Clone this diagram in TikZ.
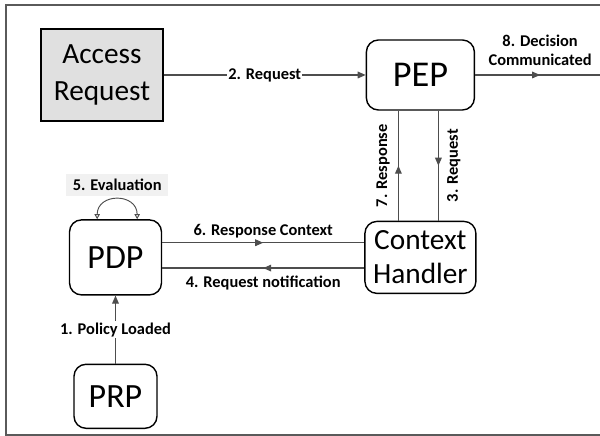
\documentclass[tikz,border=0pt]{standalone}
\usepackage{fontspec}
\setmainfont{Carlito}
\usepackage{xcolor}
\definecolor{linegray}{HTML}{4D4D4D}
\definecolor{framegray}{HTML}{5A5A5A}
\definecolor{reqgray}{HTML}{E0E0E0}
\definecolor{evalgray}{HTML}{F1F1F1}
\usepackage{tikz}
\usetikzlibrary{arrows.meta,positioning,decorations.markings}

\begin{document}
\begin{tikzpicture}[
  unit/.style={draw, rounded corners=0.36cm, align=center, line width=1.2pt,
               fill=white, inner sep=1pt},
  request/.style={unit, rounded corners=0pt, fill=reqgray, minimum width=3.66cm,
                  minimum height=2.76cm, font=\fontsize{25}{31}\selectfont},
  pepbox/.style={unit, minimum width=3.24cm, minimum height=2.1cm,
                 font=\fontsize{31}{36}\selectfont},
  ctxbox/.style={unit, minimum width=3.33cm, minimum height=2.16cm,
                 font=\fontsize{25}{29}\selectfont},
  pdpbox/.style={unit, minimum width=2.76cm, minimum height=2.25cm,
                 font=\fontsize{29}{34}\selectfont},
  prpbox/.style={unit, minimum width=2.49cm, minimum height=1.92cm,
                 font=\fontsize{29}{34}\selectfont},
  lbl/.style={font=\bfseries\fontsize{14}{16}\selectfont, text=black, align=center},
  sidelbl/.style={lbl, rotate=90, inner sep=7pt},
  frame/.style={draw=framegray, line width=1.3pt},
  conn/.style={color=linegray, line width=1pt},
  endarr/.style={conn, -{Triangle[length=2.4mm,width=2mm]}},
  midarr/.style={conn, postaction={decorate},
                 decoration={markings,
                   mark=at position 0.5 with {\arrow{Triangle[length=2.4mm,width=2mm]}}}},
  evalloop/.style={color=linegray, line width=0.8pt,
                   {Triangle[open,length=1.5mm,width=1.6mm]}-{Triangle[open,length=1.5mm,width=1.6mm]}}
]
\useasboundingbox (0,0) rectangle (18,13.08);
\draw[frame] (0.18,0.03) rectangle (18.5,12.93);

\node[request] (ar) at (3.06,10.83) {Access\\Request};
\node[pepbox, right=6.06cm of ar] (pep) {PEP};
\node[ctxbox, below=3.3cm of pep] (ctx) {Context\\Handler};
\node[pdpbox, left=6.06cm of ctx] (pdp) {PDP};
\node[prpbox, below=2.04cm of pdp] (prp) {PRP};
\coordinate[right=3.9cm of pep.east] (decout);

\draw[endarr] (ar) -- node[lbl, fill=white, inner sep=1pt] {2. Request} (pep);
\draw[midarr] (pep) -- node[lbl, above=4pt] {8. Decision\\Communicated} (decout);
\draw[midarr] ([xshift=0.54cm]pep.south) -- ([xshift=0.54cm]ctx.north)
  node[midway, sidelbl, anchor=north] {3. Request};
\draw[midarr] ([yshift=-0.32cm]ctx.west) -- ([yshift=-0.32cm]pdp.east)
  node[midway, lbl, below=3pt] {4. Request notification};
\draw[midarr] ([yshift=0.44cm]pdp.east) -- ([yshift=0.44cm]ctx.west)
  node[midway, lbl, above] {6. Response Context};
\draw[midarr] ([xshift=-0.66cm]ctx.north) -- ([xshift=-0.66cm]pep.south)
  node[midway, sidelbl, anchor=south] {7. Response};
\draw[endarr] (prp) -- node[lbl, fill=white, inner sep=1pt] {1. Policy Loaded} (pdp);
\draw[evalloop] ([xshift=-0.55cm]pdp.north) to[out=90, in=90, looseness=1.7]
  node[lbl, above=0.09cm, fill=evalgray, minimum width=3.06cm, minimum height=0.66cm,
       inner sep=0pt] {5. Evaluation}
  ([xshift=0.65cm]pdp.north);
\end{tikzpicture}
\end{document}
